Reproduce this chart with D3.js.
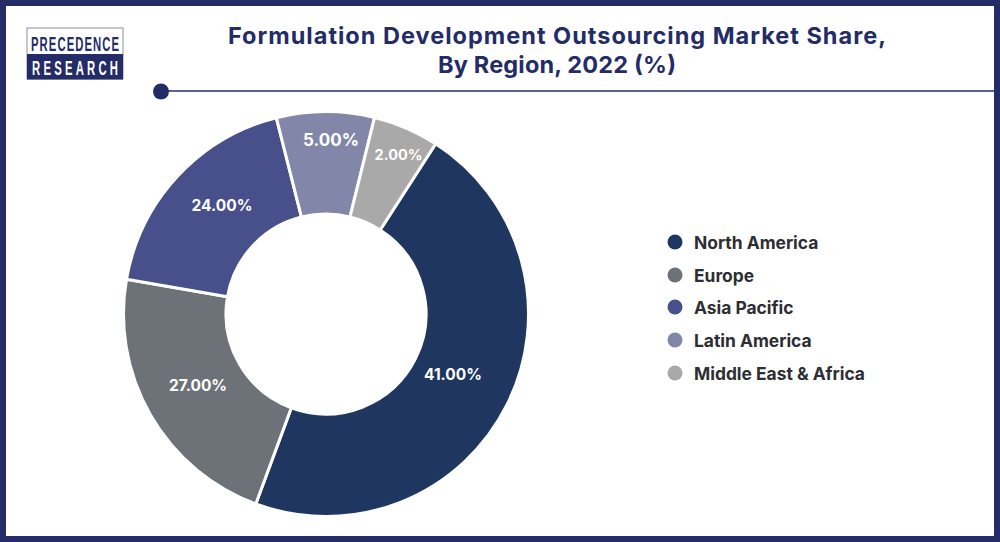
<!DOCTYPE html>
<html><head><meta charset="utf-8">
<script src="https://cdnjs.cloudflare.com/ajax/libs/d3/7.8.5/d3.min.js"></script>
<style>html,body{margin:0;padding:0;background:#fff}svg{display:block}text{font-family:Inter,"Open Sans",sans-serif}</style>
</head><body><svg id="c" width="1000" height="542"></svg>
<script>
const categories=["North America","Europe","Asia Pacific","Latin America","Middle East & Africa"];
const shareLabels=["41.00%","27.00%","24.00%","5.00%","2.00%"];
// angular extent of each slice (in percent of the circle)
const sliceValues=[46.5,22.1,18.3,7.8,5.25];
const colors=["#1e3660","#6d7178","#47508a","#8287aa","#a9a9a9"];
const titleLines=["Formulation Development Outsourcing Market Share,","By Region, 2022 (%)"];
const logoWords=["PRECEDENCE","RESEARCH"];
const navy="#232c66";
const svg=d3.select("#c");
svg.append("rect").attr("x",3).attr("y",3).attr("width",994).attr("height",536).attr("fill","#fff").attr("stroke",navy).attr("stroke-width",6);
// logo
svg.append("rect").attr("x",27).attr("y",28).attr("width",96).attr("height",51).attr("fill","#fff").attr("stroke","#8a8da5").attr("stroke-width",1);
svg.append("rect").attr("x",27).attr("y",54).attr("width",96).attr("height",25.5).attr("fill",navy);
const logoFont='"Liberation Sans","Arimo",sans-serif';
const logoScale=0.55;
svg.selectAll(".logo").data(logoWords).join("text")
 .attr("transform",(d,i)=>`translate(75,${i?74.5:50.5}) scale(${logoScale},1)`)
 .attr("text-anchor","middle").attr("textLength",(d,i)=>(i?86:88)/logoScale).attr("lengthAdjust","spacing")
 .style("font-family",logoFont).attr("font-size",20.5).attr("font-weight",700).attr("fill",(d,i)=>i?"#fff":navy).text(d=>d);
// title
svg.selectAll(".t").data(titleLines).join("text").attr("x",557).attr("y",(d,i)=>44+i*29)
 .attr("text-anchor","middle").attr("textLength",(d,i)=>i?238:658).attr("lengthAdjust","spacing")
 .attr("font-size",23.5).attr("font-weight",700).attr("fill",navy).text(d=>d);
// rule
svg.append("line").attr("x1",161).attr("x2",997).attr("y1",91).attr("y2",91).attr("stroke",navy).attr("stroke-width",1.6);
svg.append("circle").attr("cx",161).attr("cy",91.5).attr("r",8).attr("fill",navy);
// donut
const start=32.8*Math.PI/180;
const pie=d3.pie().sort(null).value(d=>d).startAngle(start).endAngle(start+2*Math.PI);
const arc=d3.arc().innerRadius(100).outerRadius(202.5);
const g=svg.append("g").attr("transform","translate(326,314)");
const arcs=pie(sliceValues);
g.selectAll("path").data(arcs).join("path").attr("d",arc).attr("fill",(d,i)=>colors[i]).attr("stroke","#fff").attr("stroke-width",3);
const labelPos=[[127,61],[-128,72],[-104,-108],[5,-173],[72.5,-159]];
g.selectAll(".v").data(arcs).join("text").attr("x",(d,i)=>labelPos[i][0]).attr("y",(d,i)=>labelPos[i][1]+5)
 .attr("text-anchor","middle").attr("font-size",(d,i)=>i==3?17:i==4?14.5:15.5).attr("font-weight",700).attr("fill","#fff").text((d,i)=>shareLabels[i]);
// legend
const ly=[242,275,307,340,373];
const lg=svg.selectAll(".l").data(categories).join("g").attr("transform",(d,i)=>`translate(675,${ly[i]})`);
lg.append("circle").attr("r",7.5).attr("fill",(d,i)=>colors[i]);
lg.append("text").attr("x",19).attr("y",6.5).attr("font-size",17.4).attr("font-weight",700).attr("fill","#2d2e33").text(d=>d);
</script></body></html>
